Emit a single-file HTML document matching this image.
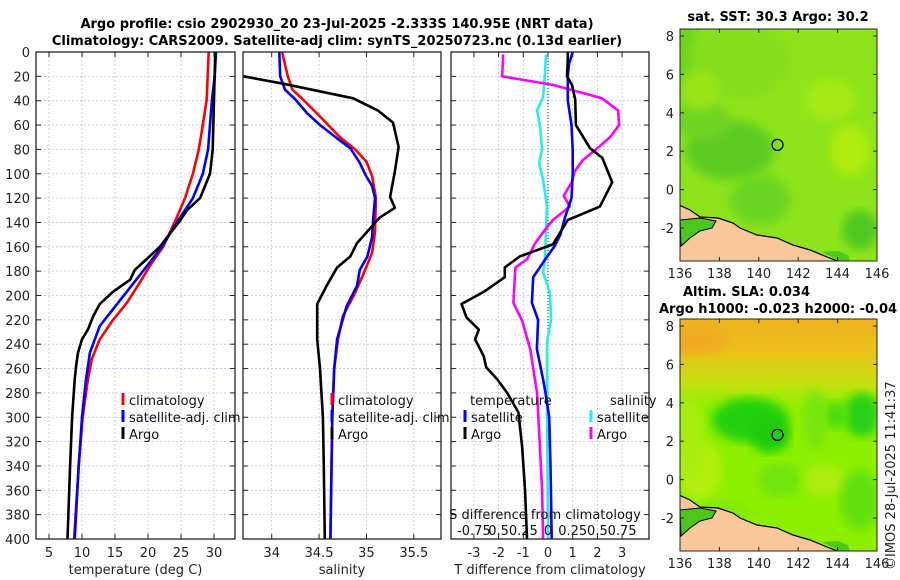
<!DOCTYPE html>
<html><head><meta charset="utf-8"><style>
body{margin:0;background:#fff;}
svg{display:block;font-family:"DejaVu Sans","Liberation Sans",sans-serif;}
</style></head><body>
<svg id="fig" width="900" height="580" viewBox="0 0 900 580" xmlns="http://www.w3.org/2000/svg">
<defs>
<linearGradient id="slaTop" x1="0" y1="0" x2="0" y2="1">
<stop offset="0" stop-color="#f0b21e" stop-opacity="1"/><stop offset="0.35" stop-color="#eac21a" stop-opacity="1"/><stop offset="0.7" stop-color="#c8e010" stop-opacity="0.9"/><stop offset="1" stop-color="#a0ec08" stop-opacity="0"/>
</linearGradient>
<filter id="blur4"><feGaussianBlur stdDeviation="5"/></filter>
<clipPath id="cm1"><rect x="680" y="29" width="197" height="232"/></clipPath>
<clipPath id="cm2"><rect x="680" y="319" width="197" height="232"/></clipPath>
</defs>
<g id="titles">
<text x="337" y="28" text-anchor="middle" font-size="13" font-weight="bold">Argo profile: csio 2902930_20 23-Jul-2025 -2.333S 140.95E (NRT data)</text>
<text x="337" y="45" text-anchor="middle" font-size="13" font-weight="bold">Climatology: CARS2009. Satellite-adj clim: synTS_20250723.nc (0.13d earlier)</text>
</g>
<g id="p1"></g><g id="p2"></g><g id="p3"></g>
<g id="map1"></g>
<g id="map2"></g>
<text x="778" y="21" text-anchor="middle" font-size="13" font-weight="bold">sat. SST: 30.3 Argo: 30.2</text>
<text x="683" y="296" font-size="13" font-weight="bold">Altim. SLA: 0.034</text>
<text x="659" y="313" font-size="13" font-weight="bold">Argo h1000: -0.023 h2000: -0.04</text>
<text transform="translate(895,570) rotate(-90)" font-size="13" fill="#222">©IMOS 28-Jul-2025 11:41:37</text>
</svg>
<script>
// ---- data: temperature panel ----
const tClimDepth=[0,39,60,80,100,120,139,160,173,189,206,220,236,252,269,300,340,400];
const tClimVal=[29.2,28.9,28.3,27.7,26.8,25.6,24.1,22.3,20.6,18.8,16.8,14.7,12.7,11.5,10.9,10.1,9.5,8.8];
const tSatDepth=[0,20,39,60,80,100,120,139,160,176,201,225,247,269,300,340,400];
const tSatVal=[30.3,30.1,29.7,29.4,29.1,28.3,26.8,24.5,22.1,19.8,16.2,12.7,11.2,10.6,10.0,9.5,8.9];
const tArgoDepth=[0,39,80,100,120,130,139,150,160,170,179,187,197,207,217,228,236,247,258,269,300,340,400];
const tArgoVal=[30.2,30.0,29.8,29.4,27.9,25.9,24.8,23.2,21.8,19.8,18.0,17.3,14.7,12.7,11.7,10.9,10.0,9.4,9.1,8.9,8.5,8.2,7.8];
// ---- data: salinity panel ----
const sClimDepth=[0,20,31,39,53,70,80,90,102,120,148,165,184,201,217,236,260,300,400];
const sClimVal=[34.11,34.17,34.22,34.33,34.51,34.72,34.88,35.0,35.06,35.1,35.09,35.06,34.96,34.86,34.75,34.70,34.66,34.64,34.62];
const sSatDepth=[0,20,31,39,50,60,71,79,91,101,110,120,138,152,168,179,192,209,236,260,300,400];
const sSatVal=[34.08,34.09,34.14,34.25,34.37,34.51,34.69,34.83,34.93,34.99,35.06,35.09,35.07,35.06,35.01,34.93,34.90,34.79,34.69,34.66,34.64,34.62];
const sArgoDepth=[20,26,38,48,58,78,98,119,128,136,157,168,177,192,207,236,260,300,340,400];
const sArgoVal=[33.70,34.12,34.86,35.12,35.28,35.34,35.30,35.25,35.30,35.14,34.90,34.83,34.69,34.58,34.48,34.48,34.51,34.54,34.55,34.56];
// ---- data: difference panel ----
const dTSatDepth=[0,10,20,40,60,80,100,120,135,150,160,170,185,206,220,244,269,280,300,340,400];
const dTSatVal=[1.0,0.85,0.8,0.8,0.95,1.0,1.0,0.95,0.7,0.5,0.25,-0.1,-0.6,-0.65,-0.4,-0.45,-0.2,-0.1,0.05,0.1,0.15];
const dTArgoDepth=[0,6,20,27,39,60,79,87,107,127,138,148,158,168,177,185,197,207,218,228,236,250,259,269,280,296,324,359,400];
const dTArgoVal=[0.8,0.8,0.77,0.97,1.1,1.13,1.7,2.2,2.6,2.1,0.8,0.5,0.2,-1.15,-1.75,-1.75,-2.6,-3.5,-3.3,-2.8,-2.95,-2.6,-2.5,-2.05,-1.65,-1.2,-1.05,-0.93,-0.85];
const dSSatDepth=[2,17,37,48,61,80,91,105,127,146,170,181,198,220,239,280,400];
const dSSatVal=[-0.02,-0.03,-0.05,-0.11,-0.08,-0.06,-0.09,-0.05,-0.01,-0.02,-0.03,-0.05,0.02,0.03,-0.01,-0.01,0.0];
const dSArgoDepth=[2,6,20,27,38,48,60,70,79,89,98,107,118,127,138,146,157,170,177,206,221,244,280,359,400];
const dSArgoVal=[-0.455,-0.455,-0.465,0.05,0.547,0.71,0.72,0.63,0.5,0.35,0.27,0.24,0.16,0.22,0.05,-0.03,-0.13,-0.21,-0.33,-0.35,-0.26,-0.18,-0.11,-0.06,-0.05];
// ---- axes ----
const depthTicks=[0,20,40,60,80,100,120,140,160,180,200,220,240,260,280,300,320,340,360,380,400];
const tTicks=[5,10,15,20,25,30];
const sTicks=[34,34.5,35,35.5];
const dTicks=[-3,-2,-1,0,1,2,3];
const sDiffLabels=['-0.75','0.5','0.25','0','0.25','0.5','0.75'];
const lonTicks=[136,138,140,142,144,146];
const latTicks=[8,6,4,2,0,-2];

const NS='http://www.w3.org/2000/svg';
function mk(parent,tag,attrs,text){const e=document.createElementNS(NS,tag);for(const k in attrs)e.setAttribute(k,attrs[k]);if(text!==undefined)e.textContent=text;parent.appendChild(e);return e;}
const Y0=52,Y1=539;
const yD=d=>Y0+(d/400)*(Y1-Y0);
function lin(d0,d1,r0,r1){return v=>r0+(v-d0)/(d1-d0)*(r1-r0);}

function panel(g,x0,x1,xs,ticks,tickLabels,showY,label){
  depthTicks.forEach(d=>{const l=mk(g,'line',{x1:x0,x2:x1,y1:yD(d),y2:yD(d),stroke:'#b8c4ea','stroke-width':0.8,'stroke-dasharray':'2,2'});
    
    });
  ticks.forEach(t=>{const l=mk(g,'line',{x1:xs(t),x2:xs(t),y1:Y0,y2:Y1,stroke:'#b8c4ea','stroke-width':0.8,'stroke-dasharray':'2,2'});
    
    });
  depthTicks.forEach(d=>{mk(g,'line',{x1:x0,x2:x0+5,y1:yD(d),y2:yD(d),stroke:'#222'});mk(g,'line',{x1:x1-5,x2:x1,y1:yD(d),y2:yD(d),stroke:'#222'});
    if(showY){const t=mk(g,'text',{x:x0-6,y:yD(d)+5,'text-anchor':'end','font-size':13,fill:'#222'},String(d));
      
      }});
  ticks.forEach((t,i)=>{mk(g,'line',{x1:xs(t),x2:xs(t),y1:Y1-5,y2:Y1,stroke:'#222'});mk(g,'line',{x1:xs(t),x2:xs(t),y1:Y0,y2:Y0+5,stroke:'#222'});
    const tx=mk(g,'text',{x:xs(t),y:557,'text-anchor':'middle','font-size':13,fill:'#222'},tickLabels[i]);
    
    });
  const xl=mk(g,'text',{x:(x0+x1)/2,y:574,'text-anchor':'middle','font-size':13,fill:'#222'},label);
  
  
}
function frame(g,x0,x1){const r=mk(g,'rect',{x:x0,y:Y0,width:x1-x0,height:Y1-Y0,fill:'none',stroke:'#222','stroke-width':1.3});
  
  }
function series(g,depths,vals,xs,color,name,x0,x1){
  const pts=depths.map((d,i)=>[Math.max(x0,Math.min(x1,xs(vals[i]))),yD(d)]);
  const p=mk(g,'polyline',{points:pts.map(p=>p[0].toFixed(1)+','+p[1].toFixed(1)).join(' '),fill:'none',stroke:color,'stroke-width':2.6,'stroke-linejoin':'round'});
  
  
}
function legend(g,x,y,color,label){
  mk(g,'rect',{x:x-1.5,y:y-7,width:3,height:12,fill:color});
  const t=mk(g,'text',{x:x+6,y:y+5,'font-size':13,fill:'#111'},label);
  
  
}
// Panel 1
const p1=document.getElementById('p1');
const xT=lin(5,30,49,214);
panel(p1,36,235,xT,tTicks,tTicks.map(String),true,'temperature (deg C)');
series(p1,tClimDepth,tClimVal,xT,'#f00','temp-climatology-line',36,235);
series(p1,tSatDepth,tSatVal,xT,'#00f','temp-satellite-line',36,235);
series(p1,tArgoDepth,tArgoVal,xT,'#000','temp-argo-line',36,235);
frame(p1,36,235);
legend(p1,123,400,'#f00','climatology');legend(p1,123,417,'#00f','satellite-adj. clim');legend(p1,123,434,'#000','Argo');
// Panel 2
const p2=document.getElementById('p2');
const xS=lin(34,35.5,271.7,413.8);
panel(p2,243,441,xS,sTicks,['34','34.5','35','35.5'],false,'salinity');
series(p2,sClimDepth,sClimVal,xS,'#f00','sal-climatology-line',243,441);
series(p2,sSatDepth,sSatVal,xS,'#00f','sal-satellite-line',243,441);
series(p2,sArgoDepth,sArgoVal,xS,'#000','sal-argo-line',243,441);
frame(p2,243,441);
legend(p2,332,400,'#f00','climatology');legend(p2,332,417,'#00f','satellite-adj. clim');legend(p2,332,434,'#000','Argo');
// Panel 3
const p3=document.getElementById('p3');
const xD=lin(0,1,548,572.7);
const xDS=v=>xD(v*4);
panel(p3,451,649,xD,dTicks,dTicks.map(String),false,'T difference from climatology');
mk(p3,'line',{x1:xD(0),x2:xD(0),y1:Y0,y2:Y1,stroke:'#333','stroke-width':1,'stroke-dasharray':'1,2'});
series(p3,dSSatDepth,dSSatVal,xDS,'#22eeee','sdiff-satellite-line',451,649);
series(p3,dSArgoDepth,dSArgoVal,xDS,'#f0f','sdiff-argo-line',451,649);
series(p3,dTSatDepth,dTSatVal,xD,'#00f','tdiff-satellite-line',451,649);
series(p3,dTArgoDepth,dTArgoVal,xD,'#000','tdiff-argo-line',451,649);
frame(p3,451,649);
{const t=mk(p3,'text',{x:470,y:405,'font-size':13,fill:'#111'},'temperature');}
{const t=mk(p3,'text',{x:610,y:405,'font-size':13,fill:'#111'},'salinity');}
legend(p3,465,417,'#00f','satellite');legend(p3,465,434,'#000','Argo');
legend(p3,591,417,'#22eeee','satellite');legend(p3,591,434,'#f0f','Argo');
{const t=mk(p3,'text',{x:545,y:519,'text-anchor':'middle','font-size':13,fill:'#111'},'S difference from climatology');}
dTicks.forEach((v,i)=>{const t=mk(p3,'text',{x:xD(v),y:535,'text-anchor':'middle','font-size':13,fill:'#111'},sDiffLabels[i]);
  
  });

// ---- maps ----
const lonX=lin(136,146,680,877);
function mapAxes(g,latY,top,bottom){
  latTicks.forEach(l=>{mk(g,'line',{x1:680,x2:684,y1:latY(l),y2:latY(l),stroke:'#222'});mk(g,'line',{x1:873,x2:877,y1:latY(l),y2:latY(l),stroke:'#222'});
    const t=mk(g,'text',{x:674,y:latY(l)+5,'text-anchor':'end','font-size':13,fill:'#222'},String(l));
    
    });
  lonTicks.forEach(l=>{mk(g,'line',{x1:lonX(l),x2:lonX(l),y1:bottom-4,y2:bottom,stroke:'#222'});mk(g,'line',{x1:lonX(l),x2:lonX(l),y1:top,y2:top+4,stroke:'#222'});
    const t=mk(g,'text',{x:lonX(l),y:bottom+17,'text-anchor':'middle','font-size':13,fill:'#222'},String(l));
    
    });
  mk(g,'rect',{x:680,y:top,width:197,height:bottom-top,fill:'none',stroke:'#222','stroke-width':1});
}
function land(g,dy){
  const land=[[679,205],[690,210],[700,217],[718,218],[733,223],[740,228],[757,235],[777,238],[793,245],[810,250],[827,257],[840,262],[679,262]];
  const lp=mk(g,'polygon',{points:land.map(p=>p[0]+','+(p[1]+dy)).join(' '),fill:'#f8c89a',stroke:'#000','stroke-width':1.2});
  
  
  mk(g,'polygon',{points:[[680,220],[700,218],[716,221],[712,228],[700,231],[690,238],[681,246]].map(p=>p[0]+','+(p[1]+dy)).join(' '),fill:'#4cc81c',stroke:'#000','stroke-width':1});
  mk(g,'polygon',{points:[[822,252],[838,251],[848,255],[850,261],[840,261]].map(p=>p[0]+','+(p[1]+dy)).join(' '),fill:'#4cc81c'});
}
function circle(g,y){const c=mk(g,'ellipse',{cx:lonX(140.95),cy:y,rx:5.5,ry:5.5,fill:'none',stroke:'#000','stroke-width':1.3});
  
  }
// Map 1 (SST)
const m1=document.getElementById('map1');
const lat1=lin(0,1,189.6,170.4);
const g1=mk(m1,'g',{'clip-path':'url(#cm1)'});
mk(g1,'rect',{x:680,y:29,width:197,height:232,fill:'#8ee41a'});
const sstPatches=[[686,60,16,40,'#6cd61e'],[730,150,45,30,'#5ccc22'],[700,120,30,20,'#70d420'],[760,200,30,25,'#6ad420'],[740,60,50,40,'#86de1c'],[850,150,20,25,'#b0ec10'],[830,100,25,20,'#a6ea12'],[860,230,18,20,'#50c820'],[700,90,20,20,'#9ae418']];
sstPatches.forEach(p=>mk(g1,'ellipse',{cx:p[0],cy:p[1],rx:p[2],ry:p[3],fill:p[4],filter:'url(#blur4)'}));
land(g1,0);
circle(m1,lat1(2.33));
mapAxes(m1,lat1,29,261);
// Map 2 (SLA)
const m2=document.getElementById('map2');
const lat2=lin(0,1,479.6,460.4);
const g2=mk(m2,'g',{'clip-path':'url(#cm2)'});
mk(g2,'rect',{x:680,y:319,width:197,height:232,fill:'#8cf000'});
mk(g2,'rect',{x:680,y:319,width:197,height:95,fill:'url(#slaTop)'});
const slaPatches=[[750,420,38,22,'#22d010'],[770,435,20,18,'#1ecc10'],[862,415,18,22,'#28d212'],[835,415,14,14,'#50dc10'],[815,420,12,30,'#78e60a'],[700,470,22,30,'#b4ee08'],[780,480,22,16,'#70e40a'],[825,480,22,15,'#b0ec08'],[720,520,30,18,'#80e80a'],[690,440,14,40,'#a8ee08'],[860,500,20,30,'#64e00c'],[690,340,40,14,'#f0aa20']];
slaPatches.forEach(p=>mk(g2,'ellipse',{cx:p[0],cy:p[1],rx:p[2],ry:p[3],fill:p[4],filter:'url(#blur4)'}));
land(g2,290);
mk(m2,'ellipse',{cx:lonX(140.95),cy:lat2(2.33),rx:5.5,ry:5.5,fill:'#28c820'});
circle(m2,lat2(2.33));
mapAxes(m2,lat2,319,551);
</script>
</body></html>
